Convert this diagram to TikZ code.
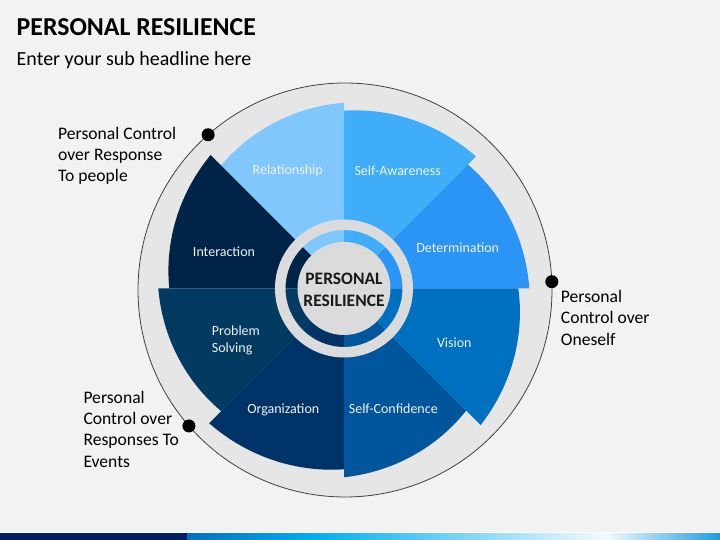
\documentclass[tikz,border=0pt]{standalone}
\usepackage{fontspec}
\setmainfont{Carlito}
\usetikzlibrary{calc}
\definecolor{bgc}{HTML}{F2F2F2}
\definecolor{ringc}{HTML}{E6E6E6}
\definecolor{innerc}{HTML}{DBDBDB}
\definecolor{cRel}{HTML}{7FC7FD}
\definecolor{cSA}{HTML}{40ADF8}
\definecolor{cDet}{HTML}{2B95F5}
\definecolor{cVis}{HTML}{0070C0}
\definecolor{cSC}{HTML}{00569C}
\definecolor{cOrg}{HTML}{003468}
\definecolor{cPS}{HTML}{033A62}
\definecolor{cInt}{HTML}{002448}
\definecolor{navy}{HTML}{002060}
\definecolor{stripA}{HTML}{0070C0}
\definecolor{stripB}{HTML}{00B0F0}
\definecolor{stripC}{HTML}{F5FAFD}
\definecolor{stripD}{HTML}{1E9BE0}
\definecolor{lbltext}{HTML}{F2F2F2}
\newcommand\wsector[5]{%
  \fill[#1] (0,0) -- plot[domain=#2:#3, samples=40] (\x:{#4+(#5-#4)*(\x-#2)/(#3-#2)}) -- cycle;}
\tikzset{
  seclbl/.style={text=lbltext, font=\fontsize{14}{17}\selectfont, inner sep=0pt},
  sidelbl/.style={text=black, font=\fontsize{17.6}{21.3}\selectfont, align=left, inner sep=0pt, anchor=base west},
  dotc/.style={fill=black},
}
\begin{document}
\begin{tikzpicture}[x=1pt,y=1pt]
\useasboundingbox (0,0) rectangle (720,540);
\fill[bgc] (0,0) rectangle (720,540);
% bottom strip
\fill[navy] (0,0) rectangle (187,6.7);
\shade[left color=stripA, right color=stripB] (187,0) rectangle (317,6.7);
\shade[left color=stripB, right color=stripC] (317,0) rectangle (606,6.7);
\shade[left color=stripC, right color=stripD] (606,0) rectangle (720,6.7);
\draw[white, line width=0.8pt] (0,7.1) -- (720,7.1);
% titles
\node[anchor=base west, inner sep=0pt, font=\fontsize{25.8}{31}\selectfont\bfseries] (title) at (16.5,504) {PERSONAL RESILIENCE};
\node[anchor=base west, inner sep=0pt, font=\fontsize{20}{24}\selectfont] (sub) at (16.5,474) {Enter your sub headline here};
% outer circle
\coordinate (O) at (345,250);
\filldraw[fill=ringc, draw=black!75, line width=0.8pt] (O) circle (207);
% sectors
\coordinate (W) at (344,251.5);
\begin{scope}[shift={(W)}]
\wsector{cDet}{0}{45}{185.3}{175.3}
\wsector{cSA}{45}{90}{186.6}{177.8}
\wsector{cRel}{90}{135}{185.8}{173.9}
\wsector{cInt}{135}{180}{188.7}{174.7}
\wsector{cPS}{180}{225}{185.7}{173.6}
\wsector{cOrg}{225}{270}{190.6}{180.8}
\wsector{cSC}{270}{315}{188.8}{172.7}
\wsector{cVis}{315}{360}{193.2}{174.3}
\end{scope}
% centre ring and disk
\fill[innerc, even odd rule] (W) circle (69) (W) circle (58.5);
\fill[innerc] (W) circle (46.5);
\node[align=center, inner sep=0pt, text=black!90, font=\fontsize{17.5}{21.7}\selectfont\bfseries] (centre) at (344,250) {PERSONAL\\RESILIENCE};
% sector labels
\node[seclbl] (relationship) at (287.7,369) {Relationship};
\node[seclbl] (selfaware) at (397.7,369.7) {Self-Awareness};
\node[seclbl] (determination) at (457.7,292) {Determination};
\node[seclbl] (interaction) at (224,288) {Interaction};
\node[seclbl, align=left, anchor=west] (problem) at (211.7,199.2) {Problem\\Solving};
\node[seclbl] (vision) at (454.3,197.7) {Vision};
\node[seclbl] (organization) at (283.3,129.7) {Organization};
\node[seclbl] (selfconf) at (393.3,131.3) {Self-Confidence};
% dots
\coordinate (d1) at ($(O)+(131.4:207)$);
\coordinate (d2) at ($(O)+(2.3:207)$);
\coordinate (d3) at ($(O)+(221.05:207)$);
\fill[dotc] (d1) circle (6.5);
\fill[dotc] (d2) circle (6.5);
\fill[dotc] (d3) circle (6.5);
% side labels (anchor = baseline of last line)
\node[sidelbl] (lblpeople) at (58,358.3) {Personal Control\\over Response\\To people};
\node[sidelbl] (lbloneself) at (560.7,194.7) {Personal\\Control over\\Oneself};
\node[sidelbl] (lblevents) at (83.3,72.7) {Personal\\Control over\\Responses To\\Events};
\end{tikzpicture}
\end{document}
